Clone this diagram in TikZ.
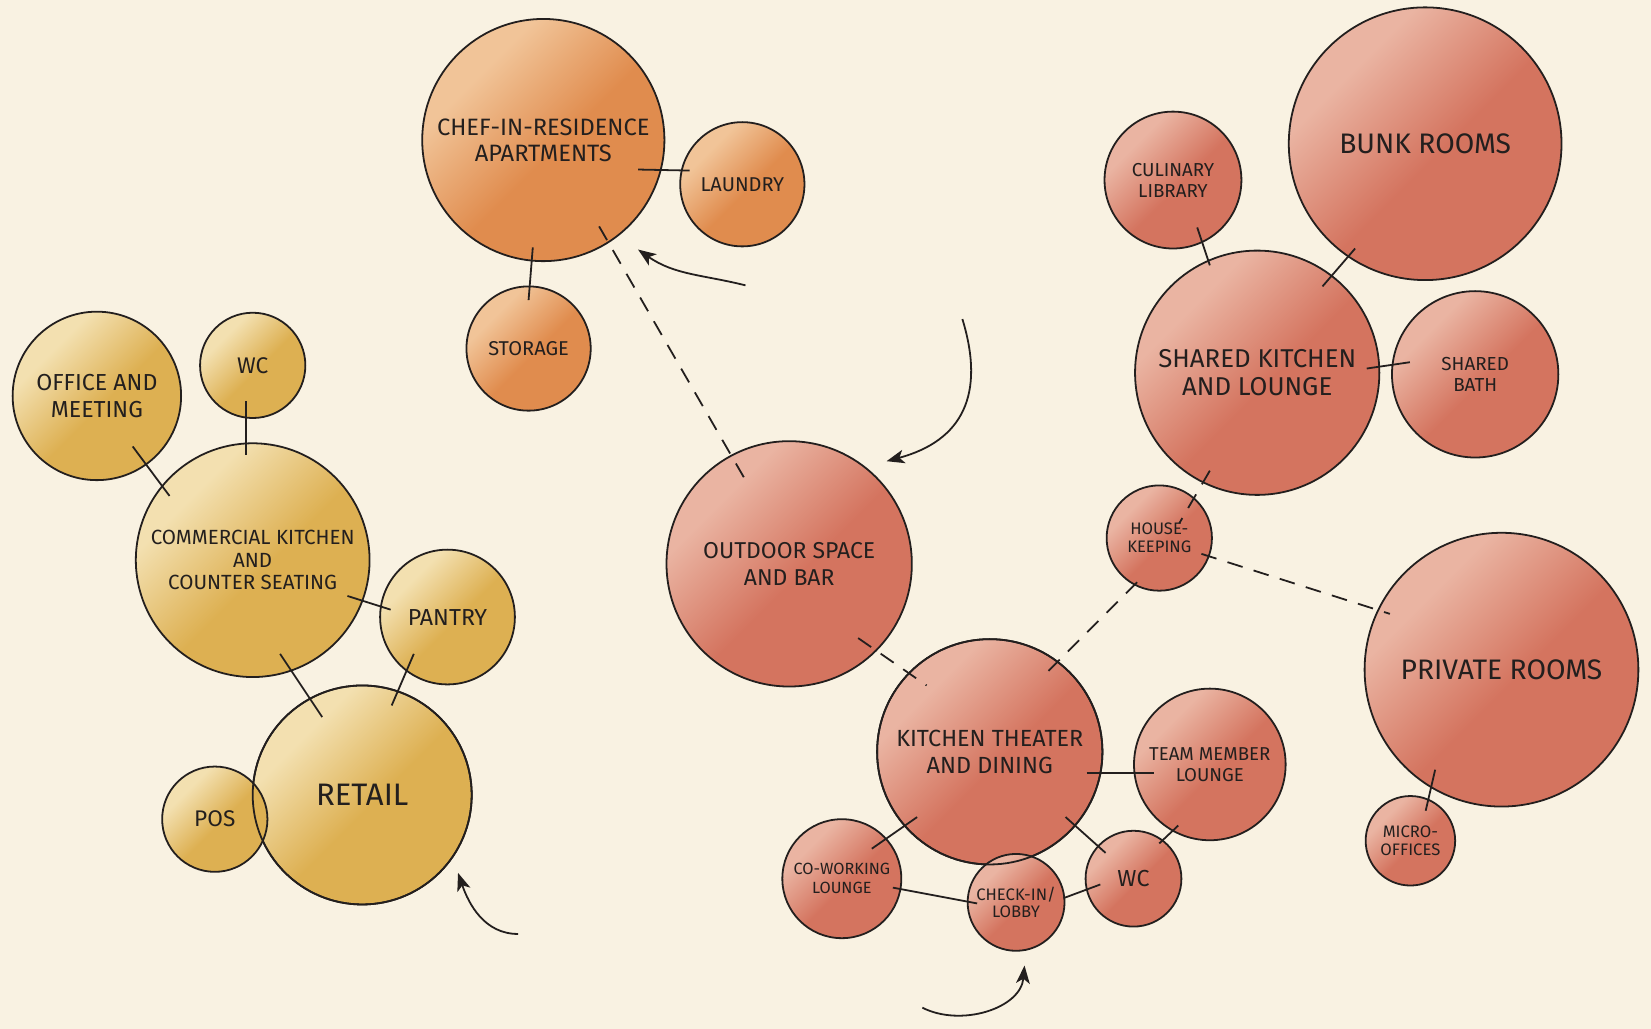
\documentclass[tikz,border=0pt]{standalone}
\usepackage{fontspec}
\setmainfont{Fira Sans}
\usetikzlibrary{arrows.meta,calc}
\definecolor{bg}{RGB}{249,242,226}
\definecolor{linec}{RGB}{35,31,30}
\definecolor{ylight}{RGB}{243,224,176}
\definecolor{ydark}{RGB}{221,176,82}
\definecolor{olight}{RGB}{241,196,152}
\definecolor{odark}{RGB}{224,140,78}
\definecolor{rlight}{RGB}{234,180,162}
\definecolor{rdark}{RGB}{212,116,95}
\pgfdeclarehorizontalshading{yshade}{100bp}{color(0bp)=(ylight); color(31bp)=(ylight); color(53bp)=(ydark); color(100bp)=(ydark)}
\pgfdeclarehorizontalshading{oshade}{100bp}{color(0bp)=(olight); color(31bp)=(olight); color(53bp)=(odark); color(100bp)=(odark)}
\pgfdeclarehorizontalshading{rshade}{100bp}{color(0bp)=(rlight); color(31bp)=(rlight); color(53bp)=(rdark); color(100bp)=(rdark)}
\newcommand{\fsz}[2]{\fontsize{#1}{#2}\selectfont}
\begin{document}
\begin{tikzpicture}[x=1pt,y=-1pt,
  bub/.style={circle, draw=linec, line width=1.7pt, inner sep=0pt, align=center, text=linec, shading angle=-45},
  ybub/.style={bub, shading=yshade},
  obub/.style={bub, shading=oshade},
  rbub/.style={bub, shading=rshade},
  conn/.style={draw=linec, line width=1.7pt},
  dconn/.style={conn, dash pattern=on 15pt off 11pt},
  flow/.style={draw=linec, line width=1.7pt, -{Stealth[length=17pt,width=13pt,inset=4.5pt]}}
]
\fill[bg] (0,0) rectangle (1568,977);
\useasboundingbox (0,0) rectangle (1568,977);

% orange group
\node[obub, minimum size=230pt, font=\fsz{22.5}{25}] (chef) at (516,133) {CHEF-IN-RESIDENCE\\APARTMENTS};
\node[obub, minimum size=118pt, font=\fsz{19}{22}] (laundry) at (705,175) {LAUNDRY};
\node[obub, minimum size=118pt, font=\fsz{19}{22}] (storage) at (502,331) {STORAGE};

% yellow group
\node[ybub, minimum size=160pt, font=\fsz{22}{25}] (office) at (92,376) {OFFICE AND\\MEETING};
\node[ybub, minimum size=100pt, font=\fsz{21.5}{24}] (wcl) at (240,347) {WC};
\node[ybub, minimum size=222pt, font=\fsz{19.5}{21.5}] (comm) at (240,532) {COMMERCIAL KITCHEN\\AND\\COUNTER SEATING};
\node[ybub, minimum size=128pt, font=\fsz{22}{24}] (pantry) at (425,586) {PANTRY};
\node[ybub, minimum size=208pt, font=\fsz{29.5}{32}] (retail) at (344,755) {RETAIL};
\node[ybub, minimum size=100pt, font=\fsz{21.5}{24}] (pos) at (204,778) {POS};
\draw[linec, line width=1.7pt] (retail.center) circle[radius=104pt];

% red group
\node[rbub, minimum size=233pt, font=\fsz{21.8}{25}] (outdoor) at (749.5,535.5) {OUTDOOR SPACE\\AND BAR};
\node[rbub, minimum size=214pt, font=\fsz{22.2}{25}] (kt) at (940,714) {KITCHEN THEATER\\AND DINING};
\node[rbub, minimum size=144pt, font=\fsz{17.7}{20}] (team) at (1149,726) {TEAM MEMBER\\LOUNGE};
\node[rbub, minimum size=113pt, font=\fsz{15.4}{18}] (cowork) at (799.5,834.5) {CO-WORKING\\LOUNGE};
\node[rbub, minimum size=92pt, font=\fsz{15.8}{17}] (checkin) at (965,857) {CHECK-IN/\\LOBBY};
\draw[linec, line width=1.7pt] (kt.center) circle[radius=107pt];
\node[rbub, minimum size=91pt, font=\fsz{22}{26}] (wcr) at (1076.5,834.5) {WC};
\node[rbub, minimum size=130pt, font=\fsz{17.8}{20}] (culinary) at (1114,171) {CULINARY\\LIBRARY};
\node[rbub, minimum size=259pt, font=\fsz{26.8}{30}] (bunk) at (1353.5,136.5) {BUNK ROOMS};
\node[rbub, minimum size=232pt, font=\fsz{24.5}{27}] (sk) at (1194,354) {SHARED KITCHEN\\AND LOUNGE};
\node[rbub, minimum size=158pt, font=\fsz{17.9}{20}] (bath) at (1401,355.5) {SHARED\\BATH};
\node[rbub, minimum size=100pt, font=\fsz{15.8}{17}] (hk) at (1101,511) {HOUSE-\\KEEPING};
\node[rbub, minimum size=260pt, font=\fsz{26.8}{30}] (private) at (1426,636) {PRIVATE ROOMS};
\node[rbub, minimum size=85pt, font=\fsz{15.8}{18}] (micro) at (1339.5,798.5) {MICRO-\\OFFICES};

% solid connectors
\draw[conn] ($(chef)+(90,28)$) -- ($(laundry)+(-50,-13)$);
\draw[conn] ($(chef)+(-10,102)$) -- ($(storage)+(0,-46)$);
\draw[conn] ($(office)+(34,48)$) -- ($(comm)+(-79,-61)$);
\draw[conn] ($(wcl)+(-6,34)$) -- ($(comm)+(-6,-100)$);
\draw[conn] ($(comm)+(90,34)$) -- ($(pantry)+(-54,-7)$);
\draw[conn] ($(comm)+(26,89)$) -- ($(retail)+(-38,-74)$);
\draw[conn] ($(pantry)+(-32,35)$) -- ($(retail)+(28,-85)$);
\draw[conn] ($(culinary)+(23,45)$) -- ($(sk)+(-45,-102)$);
\draw[conn] ($(bunk)+(-66.5,99.5)$) -- ($(sk)+(62,-82)$);
\draw[conn] ($(sk)+(104,-4)$) -- ($(bath)+(-62,-11.5)$);
\draw[conn] ($(kt)+(92,20)$) -- ($(team)+(-53,8)$);
\draw[conn] ($(kt)+(-69,62)$) -- ($(cowork)+(28.5,-28.5)$);
\draw[conn] ($(kt)+(72,62)$) -- ($(wcr)+(-26.5,-24.5)$);
\draw[conn] ($(team)+(-30,58)$) -- ($(wcr)+(24.5,-33.5)$);
\draw[conn] ($(cowork)+(48.5,8.5)$) -- ($(checkin)+(-37,1)$);
\draw[conn] ($(checkin)+(45,-4)$) -- ($(wcr)+(-31.5,5.5)$);
\draw[conn] ($(private)+(-63,95)$) -- ($(micro)+(14.5,-28.5)$);

% dashed connectors
\draw[dconn] ($(chef)+(53,82)$) -- ($(outdoor)+(-41.5,-79.5)$);
\draw[dconn] ($(outdoor)+(65.5,70.5)$) -- ($(kt)+(-60,-63)$);
\draw[dconn] ($(hk)+(-21,42)$) -- ($(kt)+(50,-71)$);
\draw[dconn] ($(sk)+(-45,93)$) -- ($(hk)+(19,-14)$);
\draw[dconn] ($(hk)+(40,15)$) -- ($(private)+(-106,-53)$);

% flow arrows
\coordinate (a1s) at (708,271); \coordinate (a1e) at (606,237);
\draw[flow] (a1s) to[out=166,in=-35] (a1e);
\coordinate (a2s) at (914,303); \coordinate (a2e) at (842,438);
\draw[flow] (a2s) to[out=-73,in=15,looseness=1.25] (a2e);
\coordinate (a3s) at (492,887); \coordinate (a3e) at (435,829);
\draw[flow] (a3s) to[out=180,in=-71] (a3e);
\coordinate (a4s) at (876,957); \coordinate (a4e) at (973,917);
\draw[flow] (a4s) to[out=-27,in=-95] (a4e);
\end{tikzpicture}
\end{document}
